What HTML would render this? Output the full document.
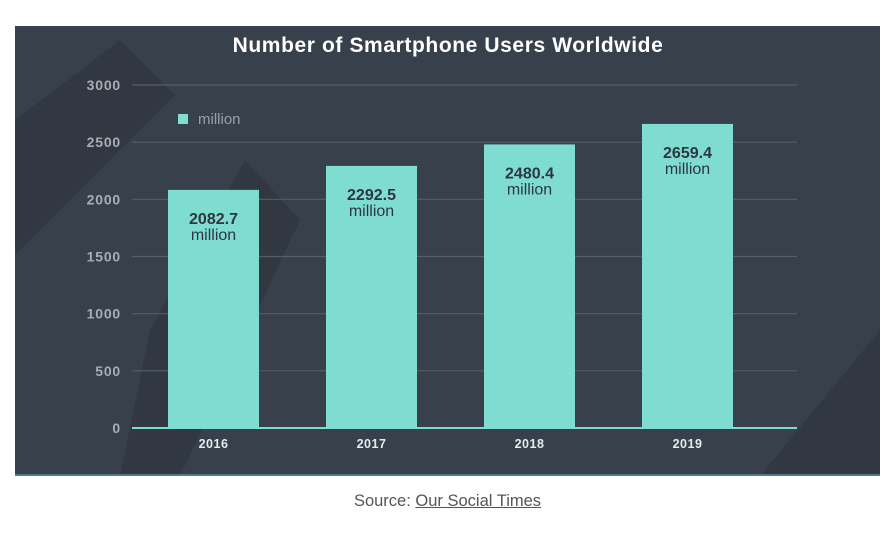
<!DOCTYPE html>
<html><head><meta charset="utf-8"><style>
body{margin:0;background:#fff;width:895px;height:533px;overflow:hidden;font-family:"Liberation Sans",sans-serif}
#src{position:absolute;top:492px;left:0;width:895px;text-align:center;font-size:16.5px;color:#555}
#src a{color:#555;text-decoration:underline}
</style></head><body>
<svg width="895" height="533" style="position:absolute;left:0;top:0">
<rect x="15" y="26" width="865" height="450" fill="#38404b"/>
<polygon points="15,120 120,40 175,95 15,255" fill="#323842"/>
<polygon points="150,330 245,160 300,220 180,476 120,476" fill="#323842"/>
<polygon points="760,476 880,330 880,476" fill="#323842"/>
<line x1="15" y1="475" x2="880" y2="475" stroke="#5a8ea0" stroke-width="1.5"/>
<text x="448" y="52" text-anchor="middle" font-size="21" font-weight="bold" letter-spacing="0.6" fill="#fff">Number of Smartphone Users Worldwide</text>
<g id="grid"></g><g id="bars"></g>
<rect x="178" y="114" width="10" height="10" fill="#7fdcd0"/>
<text x="198" y="124" font-size="15" fill="#9aa0a8">million</text>
</svg>
<div id="src">Source: <a>Our Social Times</a></div>
<script>
const categories=["2016","2017","2018","2019"];
const values=[2082.7,2292.5,2480.4,2659.4];
const yTicks=[0,500,1000,1500,2000,2500,3000];
const ns="http://www.w3.org/2000/svg";
const y=v=>428-v*(343/3000);
const x=i=>168+i*158;
const bw=91;
function mk(t,a,p){const e=document.createElementNS(ns,t);for(const k in a)e.setAttribute(k,a[k]);p.appendChild(e);return e;}
const g=document.getElementById('grid'),b=document.getElementById('bars');
yTicks.forEach(t=>{
 if(t>0){const l=mk('line',{x1:132,x2:797,y1:y(t),y2:y(t),stroke:'#555d68','stroke-width':1.2},g);
 
 }
 const tx=mk('text',{x:121,y:y(t)+5,'text-anchor':'end','font-size':14,'font-weight':'bold','letter-spacing':0.8,fill:'#a9adb3'},g);
 tx.textContent=t;
 
 
});
values.forEach((v,i)=>{
 const r=mk('rect',{x:x(i),y:y(v),width:bw,height:428-y(v),fill:'#7fdcd0'},b);
 
 
 const cx=x(i)+bw/2, ty=y(v)+34;
 const t1=mk('text',{x:cx,y:ty,'text-anchor':'middle','font-size':16,'font-weight':'bold',fill:'#2e3640'},b);
 t1.textContent=v.toFixed(1);
 
 
 const t2=mk('text',{x:cx,y:ty+16,'text-anchor':'middle','font-size':16,fill:'#2e3640'},b);
 t2.textContent='million';
 
 
 const xl=mk('text',{x:cx,y:448,'text-anchor':'middle','font-size':12.5,'font-weight':'bold','letter-spacing':0.5,fill:'#e8eaec'},b);
 xl.textContent=categories[i];
 
 
});
const base=mk('line',{x1:132,x2:797,y1:428,y2:428,stroke:'#7fdcd0','stroke-width':2},b);


</script>
</body></html>
